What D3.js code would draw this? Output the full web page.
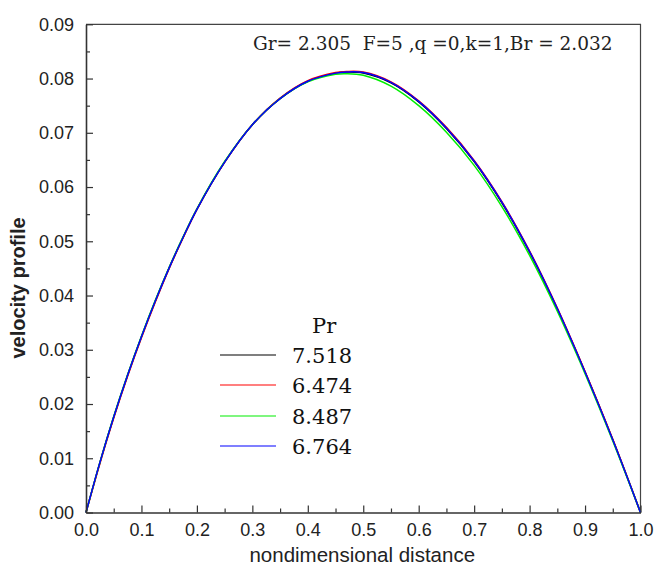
<!DOCTYPE html>
<html>
<head>
<meta charset="utf-8">
<script src="https://cdn.jsdelivr.net/npm/d3@7"></script>
<style>
  html, body { margin: 0; padding: 0; background: #fff; }
  svg { display: block; }
</style>
</head>
<body>
<svg id="chart" width="654" height="568"></svg>
<script>
// ---- data ----
const xValues = [0, 0.025, 0.05, 0.075, 0.1, 0.125, 0.15, 0.175, 0.2, 0.25, 0.3, 0.35, 0.4, 0.45, 0.47, 0.5, 0.55, 0.6, 0.65, 0.7, 0.75, 0.8, 0.85, 0.9, 0.95, 1.0];
const pr7518 = [0, 0.0092, 0.0176, 0.0253, 0.0324, 0.0390, 0.0451, 0.0507, 0.0559, 0.0646, 0.0715, 0.0763, 0.0795, 0.0810, 0.0812, 0.0810, 0.0792, 0.0757, 0.0708, 0.0647, 0.0571, 0.0480, 0.0375, 0.0259, 0.0134, 0];
const pr6474 = [0, 0.0090, 0.0174, 0.0251, 0.0322, 0.0388, 0.0450, 0.0506, 0.0559, 0.0646, 0.0715, 0.0764, 0.0796, 0.0811, 0.0813, 0.0812, 0.0794, 0.0759, 0.0710, 0.0649, 0.0573, 0.0482, 0.0377, 0.0260, 0.0135, 0];
const pr8487 = [0, 0.0092, 0.0177, 0.0254, 0.0325, 0.0391, 0.0452, 0.0508, 0.0560, 0.0647, 0.0715, 0.0763, 0.0794, 0.0808, 0.0809, 0.0806, 0.0786, 0.0750, 0.0701, 0.0640, 0.0564, 0.0474, 0.0371, 0.0256, 0.0132, 0];
const pr6764 = [0, 0.0092, 0.0176, 0.0253, 0.0324, 0.0390, 0.0451, 0.0507, 0.0559, 0.0646, 0.0715, 0.0763, 0.0795, 0.0810, 0.0812, 0.0811, 0.0793, 0.0758, 0.0709, 0.0648, 0.0572, 0.0481, 0.0376, 0.0259, 0.0134, 0];

const seriesNames = ["7.518", "6.474", "8.487", "6.764"];
const seriesColors = ["#000000", "#ff0000", "#00ee00", "#0000ff"];
const seriesValues = [pr7518, pr6474, pr8487, pr6764];

const xTickValues = [0, 0.1, 0.2, 0.3, 0.4, 0.5, 0.6, 0.7, 0.8, 0.9, 1.0];
const xMinorTicks = [0.05, 0.15, 0.25, 0.35, 0.45, 0.55, 0.65, 0.75, 0.85, 0.95];
const yTickValues = [0, 0.01, 0.02, 0.03, 0.04, 0.05, 0.06, 0.07, 0.08, 0.09];
const yMinorTicks = [0.005, 0.015, 0.025, 0.035, 0.045, 0.055, 0.065, 0.075, 0.085];

const annotation = "Gr= 2.305  F=5 ,q =0,k=1,Br = 2.032";
const legendTitle = "Pr";
const xTitle = "nondimensional distance";
const yTitle = "velocity profile";

// ---- layout ----
const plotL = 86, plotR = 640.5, plotT = 24.3, plotB = 512.5;
const svg = d3.select("#chart");

const x = d3.scaleLinear().domain([0, 1]).range([plotL, plotR]);
const y = d3.scaleLinear().domain([0, 0.09]).range([plotB, plotT]);

const axisColor = "#333";
const labelColor = "#222";
const sans = "'Liberation Sans', Arial, sans-serif";
const serif = "'DejaVu Serif', serif";

// frame (top and right)
svg.append("path")
  .attr("d", `M${plotL},${plotT}H${plotR}V${plotB}`)
  .attr("fill", "none").attr("stroke", "#444").attr("stroke-width", 1.2);

// curves
const line = d3.line()
  .x((d, i) => x(xValues[i]))
  .y(d => y(d))
  .curve(d3.curveCatmullRom.alpha(0.5));

seriesValues.forEach((vals, k) => {
  svg.append("path")
    .datum(vals)
    .attr("d", line)
    .attr("fill", "none")
    .attr("stroke", seriesColors[k])
    .attr("stroke-width", 1.5);
});

// x axis
const gx = svg.append("g").attr("transform", `translate(0,${plotB})`)
  .call(d3.axisBottom(x).tickValues(xTickValues).tickFormat(d3.format(".1f"))
    .tickSizeInner(-7).tickSizeOuter(0).tickPadding(11));
gx.append("g").call(d3.axisBottom(x).tickValues(xMinorTicks).tickFormat("")
    .tickSizeInner(-4).tickSizeOuter(0))
  .select(".domain").remove();

// y axis
const gy = svg.append("g").attr("transform", `translate(${plotL},0)`)
  .call(d3.axisLeft(y).tickValues(yTickValues).tickFormat(d3.format(".2f"))
    .tickSizeInner(-7).tickSizeOuter(0).tickPadding(12));
gy.append("g").call(d3.axisLeft(y).tickValues(yMinorTicks).tickFormat("")
    .tickSizeInner(-4).tickSizeOuter(0))
  .select(".domain").remove();

[gx, gy].forEach(g => {
  g.selectAll(".domain").attr("stroke", axisColor).attr("stroke-width", 1.6);
  g.selectAll(".tick line").attr("stroke", axisColor).attr("stroke-width", 1.2);
  g.selectAll(".tick text").attr("fill", labelColor)
    .style("font-family", sans).style("font-size", "18px");
});

// axis titles
svg.append("text")
  .attr("x", (plotL + plotR) / 2 - 1).attr("y", 562)
  .attr("text-anchor", "middle")
  .style("font-family", sans).style("font-size", "20.5px").attr("fill", labelColor)
  .text(xTitle);

svg.append("text")
  .attr("transform", `translate(25,288) rotate(-90)`)
  .attr("text-anchor", "middle")
  .style("font-family", sans).style("font-size", "20px").style("font-weight", "bold")
  .attr("fill", labelColor)
  .text(yTitle);

// annotation
svg.append("text")
  .attr("x", 253).attr("y", 50)
  .style("font-family", serif).style("font-size", "18.5px").style("white-space", "pre")
  .attr("fill", "#222")
  .text(annotation);

// legend
svg.append("text")
  .attr("x", 312).attr("y", 333)
  .style("font-family", serif).style("font-size", "21px").attr("fill", "#111")
  .text(legendTitle);

const legendRows = [355, 385, 416, 446];
seriesNames.forEach((name, k) => {
  const ly = legendRows[k];
  svg.append("line")
    .attr("x1", 220).attr("x2", 276).attr("y1", ly).attr("y2", ly)
    .attr("stroke", seriesColors[k]).attr("stroke-width", 1.2);
  svg.append("text")
    .attr("x", 292).attr("y", ly + 8)
    .style("font-family", serif).style("font-size", "21px").attr("fill", "#111")
    .text(name);
});
</script>
</body>
</html>
